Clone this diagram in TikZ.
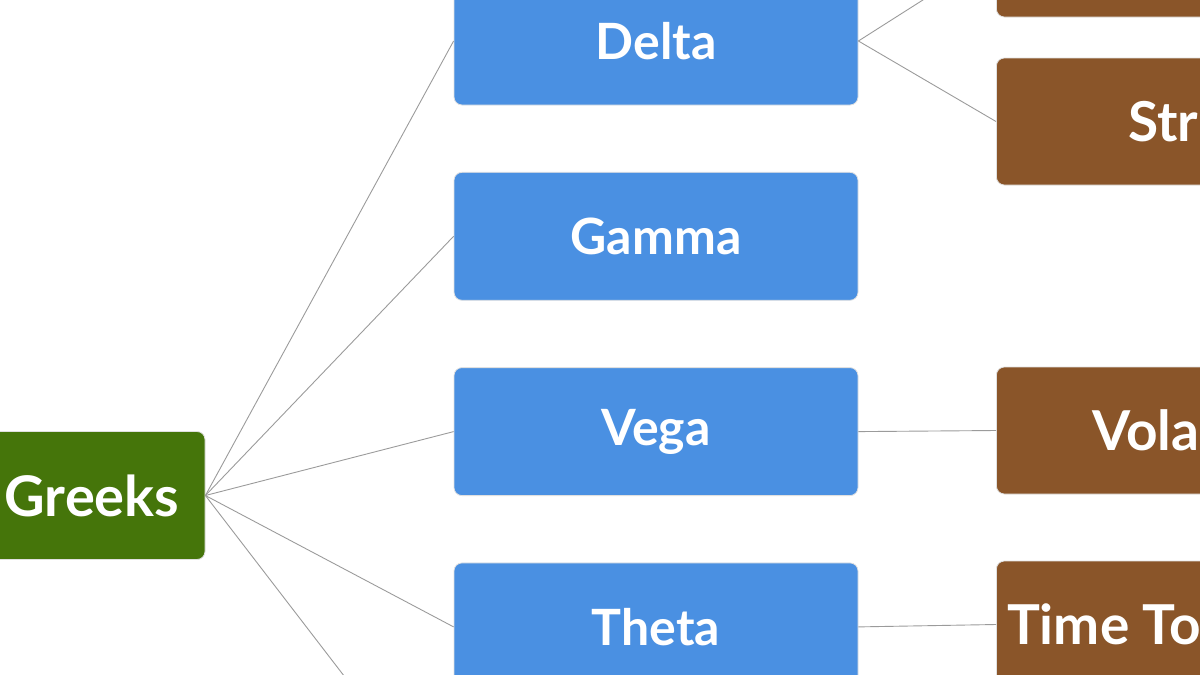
\documentclass[tikz,border=0pt]{standalone}
\usepackage{fontspec}
\setmainfont{Lato}
\usetikzlibrary{positioning}
\definecolor{branchblue}{RGB}{74,144,226}
\definecolor{rootgreen}{RGB}{69,117,10}
\definecolor{leafbrown}{RGB}{138,85,41}
\definecolor{linkgrey}{RGB}{155,155,155}
\tikzset{
    mapbox/.style = {
      rectangle,
      rounded corners=8pt,
      draw=black!12,
      line width=0.8pt,
      text=white,
      inner sep=0pt,
      minimum height=128pt,
      font=\bfseries\fontsize{50}{60}\selectfont
    },
    rootbox/.style = {
      mapbox,
      fill=rootgreen,
      minimum width=226pt,
      font=\bfseries\fontsize{56}{66}\selectfont
    },
    branchbox/.style = {
      mapbox,
      fill=branchblue,
      minimum width=404pt
    },
    leafbox/.style = {
      mapbox,
      fill=leafbrown,
      minimum width=420pt,
      minimum height=127pt,
      anchor=west
    },
    leaftext/.style = {
      text=white,
      inner sep=0pt,
      anchor=west,
      font=\bfseries\fontsize{55}{66}\selectfont
    },
    link/.style={draw=linkgrey, line width=0.9pt},
}
\begin{document}
\begin{tikzpicture}[x=1pt, y=-1pt]
        \useasboundingbox (0,0) rectangle (1200,675);
        \clip (0,0) rectangle (1200,675);

        % root and branches
        \node[rootbox] (greeks) at (92,495.5) {Greeks};
        \node[branchbox] (delta) at (656,41) {Delta};
        \node[branchbox, below=66.5pt of delta] (gamma) {Gamma};
        \node[branchbox, below=66.5pt of gamma] (vega) {Vega};
        \node[branchbox, below=66.5pt of vega] (theta) {Theta};
        \coordinate (rho) at (454,819);

        % leaves (cut by the frame)
        \node[leafbox] (deltatop) at (996,-46.5) {};
        \node[leafbox] (strike) at (996,121.5) {};
        \node[leafbox] (vola) at (996,430.5) {};
        \node[leafbox] (time) at (996,624.5) {};

        \node[leaftext, right=132pt of strike.west] (strikelabel) {Str};
        \node[leaftext, right=96pt of vola.west] (volalabel) {Vola};
        \node[leaftext, right=11pt of time.west] (timelabel) {Time To};

        \draw[link] (greeks.east) -- (delta.west);
        \draw[link] (greeks.east) -- (gamma.west);
        \draw[link] (greeks.east) -- (vega.west);
        \draw[link] (greeks.east) -- (theta.west);
        \draw[link] (greeks.east) -- (rho);
        \draw[link] (delta.east) -- (deltatop.west);
        \draw[link] (delta.east) -- (strike.west);
        \draw[link] (vega.east) -- (vola.west);
        \draw[link] (theta.east) -- (time.west);
\end{tikzpicture}
\end{document}
